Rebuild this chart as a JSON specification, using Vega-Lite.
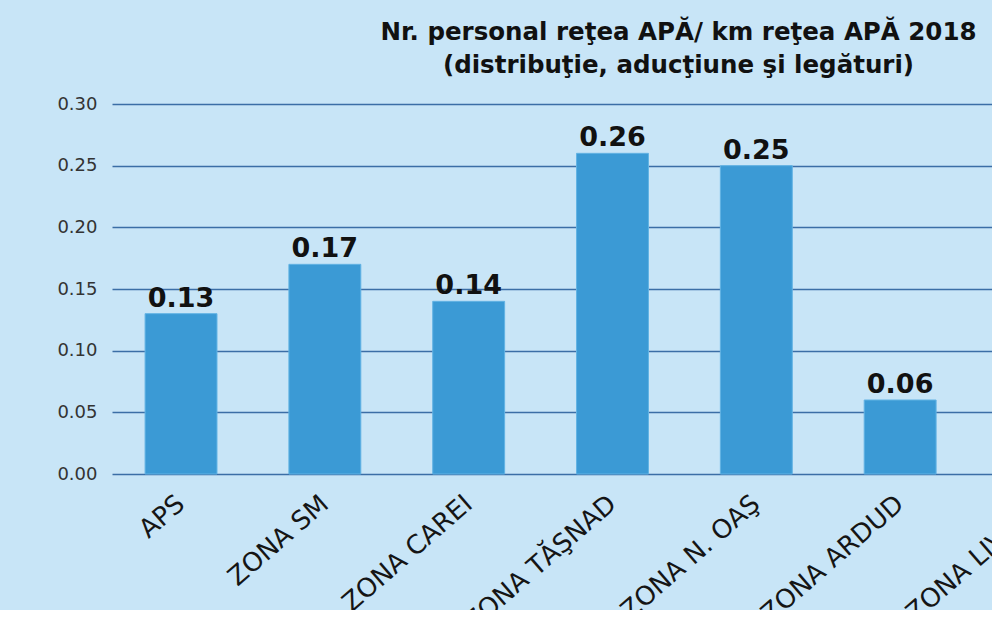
{
  "$schema": "https://vega.github.io/schema/vega-lite/v6.json",
  "autosize": {"type": "none"},
  "width": 1001,
  "height": 370,
  "padding": {"left": 112, "top": 104, "right": -121, "bottom": 136},
  "background": "#c8e5f7",
  "view": {"stroke": null},
  "title": {
    "text": ["Nr. personal reţea APĂ/ km reţea APĂ 2018", "(distribuţie, aducţiune şi legături)"],
    "font": "DejaVu Sans",
    "fontSize": 24.5,
    "fontWeight": "bold",
    "color": "#111111",
    "lineHeight": 33,
    "anchor": "middle",
    "dx": 66,
    "offset": 17
  },
  "data": {
    "values": [
      {"zona": "APS", "valoare": 0.13},
      {"zona": "ZONA SM", "valoare": 0.17},
      {"zona": "ZONA CAREI", "valoare": 0.14},
      {"zona": "ZONA TĂŞNAD", "valoare": 0.26},
      {"zona": "ZONA N. OAŞ", "valoare": 0.25},
      {"zona": "ZONA ARDUD", "valoare": 0.06},
      {"zona": "ZONA LIVADA", "valoare": null}
    ]
  },
  "encoding": {
    "x": {
      "field": "zona",
      "type": "nominal",
      "sort": null,
      "scale": {
        "domain": ["APS", "ZONA SM", "ZONA CAREI", "ZONA TĂŞNAD", "ZONA N. OAŞ", "ZONA ARDUD", "ZONA LIVADA"],
        "paddingInner": 0.5,
        "paddingOuter": 0.23
      },
      "axis": {
        "title": null,
        "domain": false,
        "ticks": false,
        "labelAngle": -41,
        "labelAlign": "right",
        "labelBaseline": "middle",
        "labelPadding": 26,
        "labelFont": "DejaVu Sans",
        "labelFontSize": 26,
        "labelColor": "#151515",
        "labelOverlap": false,
        "labelBound": false,
        "labelLimit": 400
      }
    },
    "y": {
      "field": "valoare",
      "type": "quantitative",
      "scale": {"domain": [0, 0.3], "nice": false},
      "axis": {
        "title": null,
        "domain": false,
        "ticks": false,
        "values": [0, 0.05, 0.1, 0.15, 0.2, 0.25, 0.3],
        "format": ".2f",
        "labelPadding": 15,
        "labelFont": "DejaVu Sans",
        "labelFontSize": 18,
        "labelColor": "#333333",
        "gridColor": "#3b6ea6",
        "gridWidth": 1.6,
        "gridOpacity": 1
      }
    }
  },
  "layer": [
    {
      "mark": {"type": "bar", "color": "#3b9ad5", "stroke": "#62b3e4", "strokeWidth": 1}
    },
    {
      "mark": {
        "type": "text",
        "baseline": "bottom",
        "dy": -1,
        "font": "DejaVu Sans",
        "fontSize": 27,
        "fontWeight": "bold",
        "color": "#111111"
      },
      "encoding": {
        "text": {"field": "valoare", "type": "quantitative", "format": ".2f"}
      }
    }
  ]
}
